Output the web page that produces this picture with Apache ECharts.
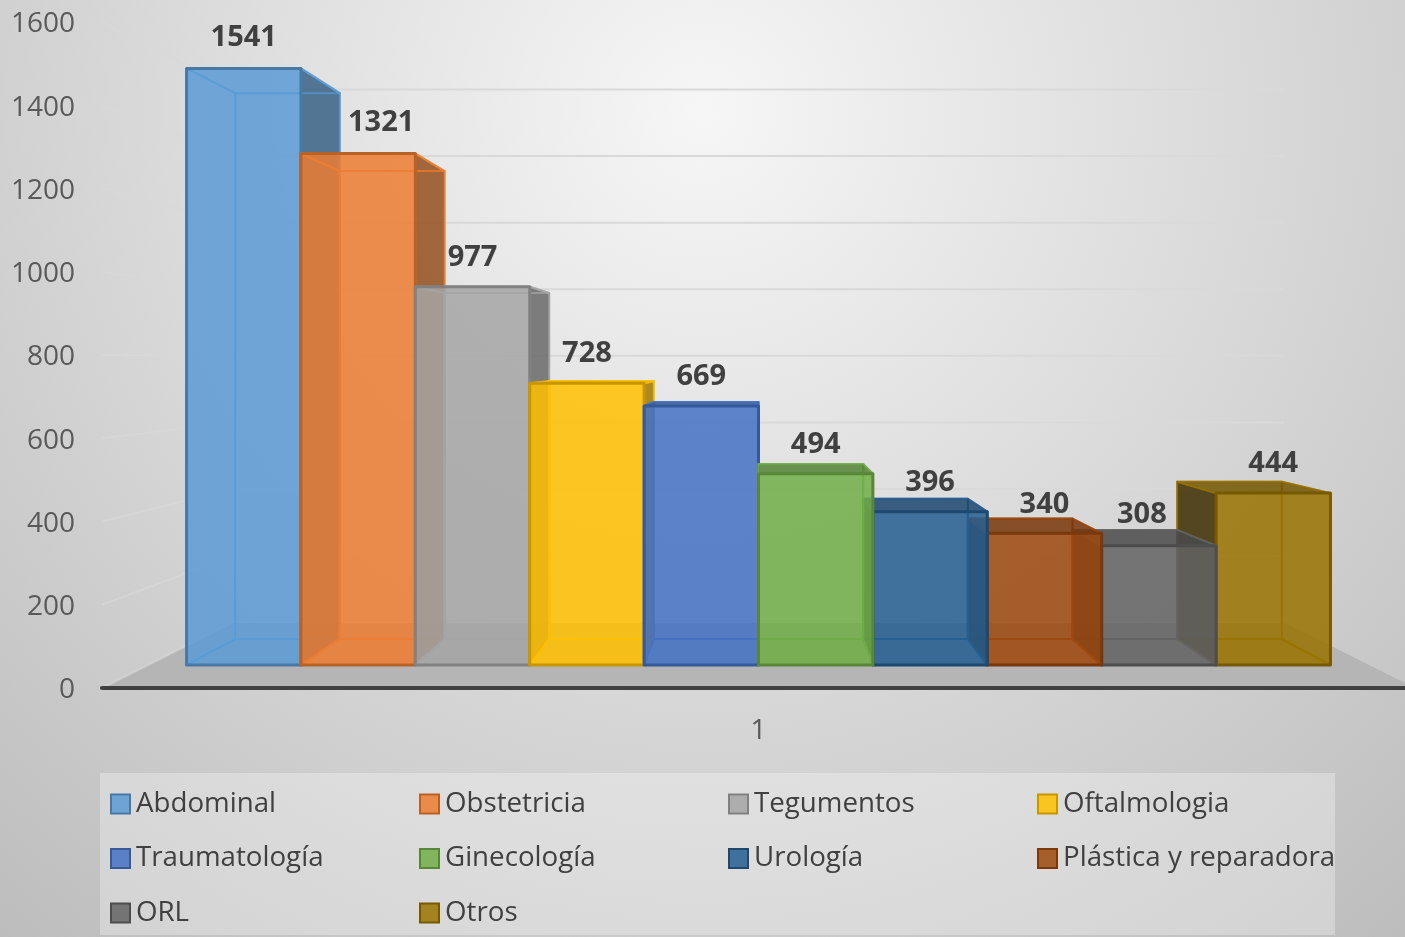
<!DOCTYPE html>
<html>
<head>
<meta charset="utf-8">
<title>Cirugías por especialidad</title>
<script src="https://cdn.jsdelivr.net/npm/echarts@6/dist/echarts.min.js"></script>
<style>
html, body { margin: 0; padding: 0; background: #ddd; }
#chart { width: 1405px; height: 937px; }
</style>
</head>
<body>
<div id="chart"></div>
<script>
var categories = ["1"];
var seriesNames = ["Abdominal", "Obstetricia", "Tegumentos", "Oftalmologia", "Traumatología",
  "Ginecología", "Urología", "Plástica y reparadora", "ORL", "Otros"];
var seriesValues = [1541, 1321, 977, 728, 669, 494, 396, 340, 308, 444];
var seriesColors = ["#5B9BD5", "#ED7D31", "#A5A5A5", "#FFC000", "#4472C4",
  "#70AD47", "#255E91", "#9E480E", "#636363", "#997300"];
var axisTicks = [0, 200, 400, 600, 800, 1000, 1200, 1400, 1600];
var legendColumns = [
  ["Abdominal", "Traumatología", "ORL"],
  ["Obstetricia", "Ginecología", "Otros"],
  ["Tegumentos", "Urología"],
  ["Oftalmologia", "Plástica y reparadora"]
];

// fake 3D: everything shrinks toward one vanishing point
var vanishValue = 790;
var wallScale = 0.8;
var frontScale = 0.93;
var backScale = 0.851;
var barRatio = 1 / 10.675;
// labels that sit off the default spot above their bar
var labelNudge = { 0: [0, -2], 1: [23, -2], 8: [-17, -2] };

function shade(hex, f, a) {
  var n = parseInt(hex.slice(1), 16);
  var r = Math.round((n >> 16) * f);
  var g = Math.round(((n >> 8) & 255) * f);
  var b = Math.round((n & 255) * f);
  return "rgba(" + r + "," + g + "," + b + "," + a + ")";
}

function projector(api) {
  var c = api.coord([0, vanishValue]);
  return function (x, y, s) {
    return [c[0] + (x - c[0]) * s, c[1] + (y - c[1]) * s];
  };
}

function poly(points, fill, stroke, width) {
  return {
    type: "polygon",
    shape: { points: points },
    style: { fill: fill, stroke: stroke, lineWidth: width, lineJoin: "round" }
  };
}

function renderBar(index) {
  return function (params, api) {
    var p = projector(api);
    var color = seriesColors[index];
    var base = api.coord([0, 0]);
    var top = api.coord([0, api.value(1)])[1];
    var w = api.size([1, 0])[0] * barRatio;
    var xl = base[0] + (index - 5) * w;
    var xr = xl + w;
    var y0 = base[1];

    var fbl = p(xl, y0, frontScale), fbr = p(xr, y0, frontScale);
    var ftr = p(xr, top, frontScale), ftl = p(xl, top, frontScale);
    var bbl = p(xl, y0, backScale), bbr = p(xr, y0, backScale);
    var btr = p(xr, top, backScale), btl = p(xl, top, backScale);

    var edge = shade(color, 1, 0.75);
    var none = "rgba(0,0,0,0)";
    var leftFill = index >= 5 ? shade(color, 0.4, 0.85) : none;
    var rightFill = index < 5 ? shade(color, 0.63, 0.85) : none;
    var topFill = ftl[1] > api.coord([0, vanishValue])[1] ? shade(color, 0.75, 0.85) : none;
    var outline = shade(color, 0.78, 1);
    var nudge = labelNudge[index] || [0, 0];

    return {
      type: "group",
      children: [
        poly([bbl, bbr, btr, btl], none, edge, 2),
        poly([fbl, fbr, bbr, bbl], shade(color, 1, 0.1), edge, 2),
        poly([fbl, ftl, btl, bbl], leftFill, edge, 2),
        poly([fbr, ftr, btr, bbr], rightFill, edge, 2),
        poly([ftl, ftr, btr, btl], topFill, edge, 2),
        poly([fbl, fbr, ftr, ftl], shade(color, 1, 0.85), outline, 3),
        {
          type: "text",
          style: {
            x: (ftl[0] + ftr[0]) / 2 + nudge[0],
            y: ftl[1] - 29 + nudge[1],
            text: String(api.value(1)),
            fill: "#404040",
            font: "bold 29px 'Open Sans'",
            align: "center",
            verticalAlign: "middle"
          }
        }
      ]
    };
  };
}

function renderFloor(params, api) {
  var p = projector(api);
  var cs = params.coordSys;
  var y0 = api.coord([0, 0])[1];
  var l = cs.x, r = cs.x + cs.width;
  return poly([[l, y0], [r, y0], p(r, y0, wallScale), p(l, y0, wallScale)], "#b5b5b5", "none", 0);
}

function renderWallLine(params, api) {
  var p = projector(api);
  var cs = params.coordSys;
  var y = api.coord([0, api.value(1)])[1];
  var l = cs.x, r = cs.x + cs.width;
  return {
    type: "group",
    children: [
      {
        type: "polyline",
        shape: { points: [[l, y], p(l, y, wallScale)] },
        style: { fill: "none", stroke: "rgba(217,217,217,0.6)", lineWidth: 2 }
      },
      {
        type: "polyline",
        shape: { points: [p(l, y, wallScale), p(r, y, wallScale)] },
        style: { fill: "none", stroke: "#d9d9d9", lineWidth: 2 }
      }
    ]
  };
}

var series = [
  {
    type: "custom",
    name: "floor",
    silent: true,
    z: 1,
    renderItem: renderFloor,
    encode: { x: 0, y: 1 },
    data: [[0, 0]]
  },
  {
    type: "custom",
    name: "walls",
    silent: true,
    z: 2,
    renderItem: renderWallLine,
    encode: { x: 0, y: 1 },
    data: axisTicks.map(function (t) { return [0, t]; })
  }
];

seriesNames.forEach(function (name, i) {
  series.push({
    type: "custom",
    name: name,
    silent: true,
    z: 3 + (i < 5 ? i : 9 - i),  // outer bars first
    itemStyle: { color: seriesColors[i] },
    renderItem: renderBar(i),
    encode: { x: 0, y: 1 },
    data: [[0, seriesValues[i]]]
  });
});

var legendLeft = [110, 419, 728, 1037];

var option = {
  animation: false,
  backgroundColor: {
    type: "radial",
    x: 0.5,
    y: 0.12,
    r: 1.25,
    colorStops: [
      { offset: 0, color: "#f6f6f6" },
      { offset: 1, color: "#b8b8b8" }
    ]
  },
  textStyle: { fontFamily: "Open Sans" },
  grid: { left: 102, top: 22, width: 1313, height: 666, outerBoundsMode: "none" },
  xAxis: {
    type: "category",
    data: categories,
    z: 2,
    axisTick: { show: false },
    axisLine: { lineStyle: { color: "#404040", width: 4 } },
    axisLabel: { color: "#595959", fontSize: 28, margin: 26, padding: [3, 0, 0, 0], fontFamily: "Open Sans" },
    splitLine: { show: false }
  },
  yAxis: {
    type: "value",
    min: 0,
    max: 1600,
    interval: 200,
    axisLine: { show: false },
    axisTick: { show: false },
    splitLine: { show: false },
    axisLabel: {
      color: "#595959",
      fontSize: 28,
      margin: 27,
      verticalAlign: "top",
      lineHeight: 5,
      fontFamily: "Open Sans",
      formatter: function (v) { return String(v); }
    }
  },
  graphic: [
    {
      type: "rect",
      silent: true,
      z: 0,
      shape: { x: 100, y: 773, width: 1235, height: 162 },
      style: { fill: "rgba(255,255,255,0.3)" }
    }
  ],
  legend: legendColumns.map(function (names, c) {
    return {
      orient: "vertical",
      left: legendLeft[c],
      top: 788,
      padding: 0,
      icon: "rect",
      itemWidth: 19,
      itemHeight: 19,
      itemGap: 22.5,
      selectedMode: false,
      textStyle: { color: "#404040", fontSize: 27.7, lineHeight: 28, fontFamily: "Open Sans", padding: [4, 0, 0, 1] },
      data: names.map(function (n) {
        var col = seriesColors[seriesNames.indexOf(n)];
        return {
          name: n,
          itemStyle: { color: shade(col, 1, 0.85), borderColor: shade(col, 0.78, 1), borderWidth: 2 }
        };
      })
    };
  }),
  series: series
};

var chart = echarts.init(document.getElementById("chart"));
chart.setOption(option);
</script>
</body>
</html>
